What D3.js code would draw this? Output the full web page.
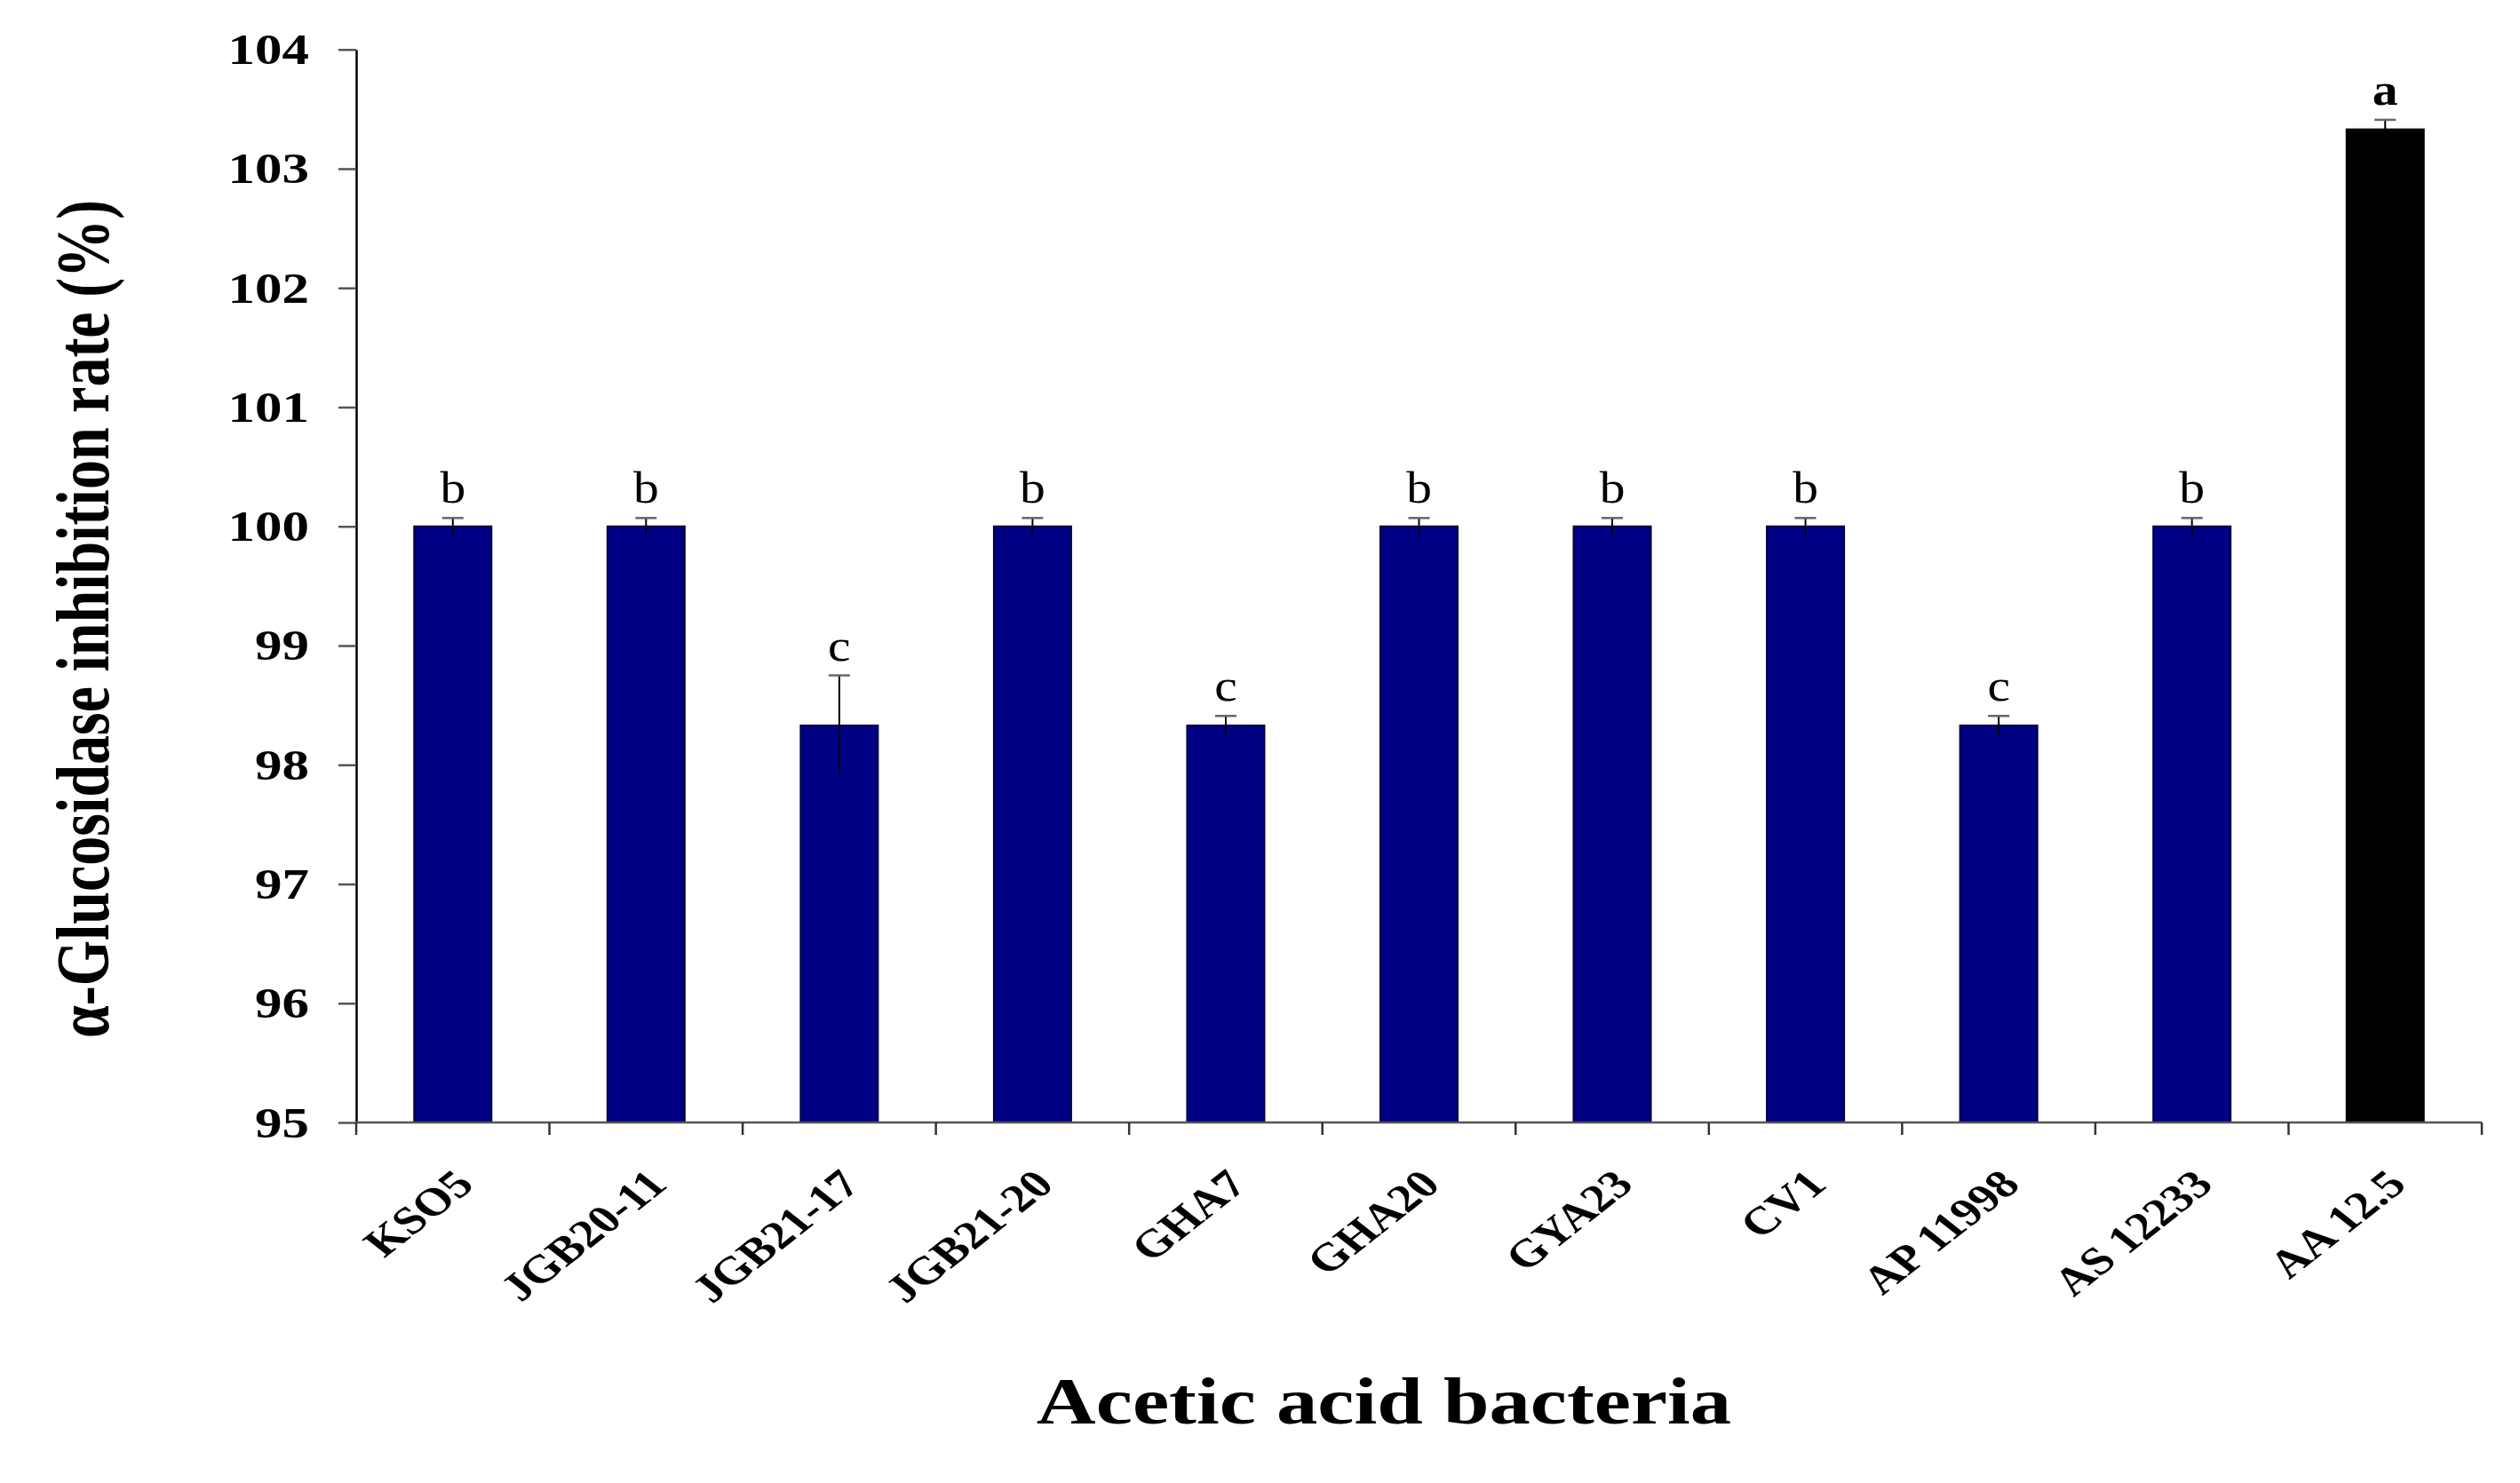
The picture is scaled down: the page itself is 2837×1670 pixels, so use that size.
<!DOCTYPE html>
<html>
<head>
<meta charset="utf-8">
<script src="https://cdn.jsdelivr.net/npm/d3@7"></script>
<style>
  html, body { margin: 0; padding: 0; background: #fff; }
  svg { display: block; }
  text { font-family: "Liberation Serif", "Times New Roman", serif; fill: #000; }
</style>
</head>
<body>
<svg id="chart" width="2837" height="1670"></svg>
<script>
// ---- data ----
const categories = ["KSO5", "JGB20-11", "JGB21-17", "JGB21-20", "GHA7", "GHA20", "GYA23", "CV1", "AP 11998", "AS 12233", "AA 12.5"];
const values = [100, 100, 98.33, 100, 98.33, 100, 100, 100, 98.33, 100, 103.33];
const errors = [0.07, 0.07, 0.42, 0.07, 0.08, 0.07, 0.07, 0.07, 0.08, 0.07, 0.08];
const letters = ["b", "b", "c", "b", "c", "b", "b", "b", "c", "b", "a"];
const barColors = ["#000085", "#000085", "#000085", "#000085", "#000085", "#000085", "#000085", "#000085", "#000085", "#000085", "#000000"];
const yTicks = [95, 96, 97, 98, 99, 100, 101, 102, 103, 104];
const yTitle = "α-Glucosidase inhibition rate (%)";
const xTitle = "Acetic acid bacteria";

(function () {
// ---- layout ----
const W = 2837, H = 1670;
const mLeft = 401, mRight = 2794, mTop = 55.7, mBottom = 1264;
const SX = 1.27; // horizontal glyph stretch seen in the reference

const svg = d3.select("#chart");
svg.append("rect").attr("width", W).attr("height", H).attr("fill", "#fff");

const x = d3.scaleBand().domain(categories).range([mLeft, mRight]).paddingInner(0.6).paddingOuter(0.3);
const y = d3.scaleLinear().domain([95, 104]).range([mBottom, mTop]);

const data = categories.map((c, i) => ({ c, v: values[i], e: errors[i], l: letters[i], col: barColors[i] }));

// bars
svg.append("g").selectAll("rect").data(data).join("rect")
  .attr("x", d => x(d.c))
  .attr("y", d => y(d.v))
  .attr("width", x.bandwidth())
  .attr("height", d => y(95) - y(d.v))
  .attr("fill", d => d.col)
  .attr("stroke", d => d.col === "#000000" ? "#000" : "#00003f")
  .attr("stroke-width", 2);

// error bars
const eg = svg.append("g");
data.forEach(d => {
  const cx = x(d.c) + x.bandwidth() / 2;
  eg.append("line").attr("x1", cx).attr("x2", cx)
    .attr("y1", y(d.v - d.e)).attr("y2", y(d.v + d.e))
    .attr("stroke", "#000").attr("stroke-width", 2);
  eg.append("line").attr("x1", cx - 12).attr("x2", cx + 12)
    .attr("y1", y(d.v + d.e)).attr("y2", y(d.v + d.e))
    .attr("stroke", "#666").attr("stroke-width", 2.5);
  eg.append("text")
    .attr("transform", `translate(${cx},${y(d.v + d.e) - 17}) scale(1.15,1)`)
    .attr("text-anchor", "middle")
    .attr("font-size", 50)
    .attr("font-weight", d.l === "a" ? "bold" : "normal")
    .text(d.l);
});

// y axis
const yAxis = svg.append("g").attr("transform", `translate(${mLeft},0)`)
  .call(d3.axisLeft(y).tickValues(yTicks).tickSize(20).tickPadding(0).tickSizeOuter(0));
yAxis.select(".domain").attr("stroke", "#000").attr("stroke-width", 2.5);
yAxis.selectAll(".tick line").attr("stroke", "#555").attr("stroke-width", 2.5);
yAxis.selectAll(".tick text")
  .attr("x", null).attr("dy", null)
  .attr("transform", `translate(-53,16) scale(${SX},1)`)
  .attr("font-family", "Liberation Serif")
  .attr("font-weight", "bold")
  .attr("font-size", 48)
  .attr("fill", "#000");

// x axis line and boundary ticks
const xg = svg.append("g");
xg.append("line").attr("x1", mLeft).attr("x2", mRight).attr("y1", mBottom).attr("y2", mBottom)
  .attr("stroke", "#555").attr("stroke-width", 2.5);
d3.range(categories.length + 1).forEach(i => {
  const bx = x.range()[0] + i * x.step();
  xg.append("line").attr("x1", bx).attr("x2", bx).attr("y1", mBottom).attr("y2", mBottom + 14)
    .attr("stroke", "#333").attr("stroke-width", 2.5);
});
// category labels
xg.selectAll("text.cat").data(categories).join("text")
  .attr("class", "cat")
  .attr("transform", c => `translate(${x(c) + x.bandwidth() / 2 + 26},${mBottom + 72}) scale(${SX},1) rotate(-45)`)
  .attr("text-anchor", "end")
  .attr("font-weight", "bold")
  .attr("font-size", 44)
  .text(c => c);

// axis titles
svg.append("text")
  .attr("transform", `translate(1558,1603) scale(${SX},1)`)
  .attr("text-anchor", "middle")
  .attr("font-weight", "bold")
  .attr("font-size", 73)
  .text(xTitle);

svg.append("text")
  .attr("transform", `translate(122,697) scale(${SX},1) rotate(-90)`)
  .attr("text-anchor", "middle")
  .attr("font-weight", "bold")
  .attr("font-size", 66)
  .text(yTitle);
})();
</script>
</body>
</html>
